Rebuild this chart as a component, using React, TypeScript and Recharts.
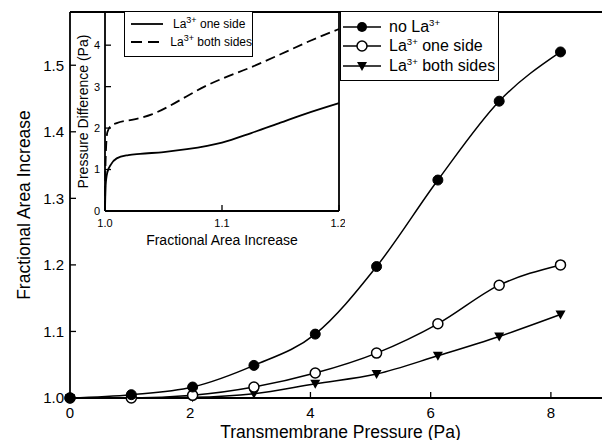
import { LineChart, Line, XAxis, YAxis } from 'recharts'

const FONT = '"Liberation Sans", Arial, sans-serif'

// main panel: fractional area increase vs transmembrane pressure
const pressure = [0, 1.02, 2.04, 3.06, 4.08, 5.1, 6.12, 7.14, 8.16]
const noLa = [1.0, 1.005, 1.0165, 1.049, 1.096, 1.1975, 1.3275, 1.446, 1.52]
const laOneSide = [1.0, 1.0, 1.004, 1.0165, 1.0375, 1.0675, 1.1115, 1.1695, 1.2]
const laBothSides = [1.0, 1.0, 1.001, 1.0065, 1.0215, 1.036, 1.0635, 1.0925, 1.1255]
const xTicks = [0, 2, 4, 6, 8]
const yTicks = [1.0, 1.1, 1.2, 1.3, 1.4, 1.5]

// inset: pressure difference vs fractional area increase
const oneSideArea = [1.0, 1.0005, 1.002, 1.005, 1.01, 1.02, 1.03, 1.05, 1.07, 1.1, 1.125, 1.15, 1.17, 1.2]
const oneSideDiff = [0, 0.6, 0.93, 1.12, 1.27, 1.35, 1.38, 1.42, 1.49, 1.65, 1.88, 2.13, 2.33, 2.6]
const bothSidesArea = [1.0, 1.0005, 1.002, 1.005, 1.01, 1.025, 1.04, 1.055, 1.07, 1.085, 1.1, 1.125, 1.15, 1.175, 1.2]
const bothSidesDiff = [0, 1.2, 1.9, 2.05, 2.12, 2.21, 2.33, 2.53, 2.77, 3.0, 3.19, 3.47, 3.78, 4.1, 4.39]
const insetXTicks = [1.0, 1.1, 1.2]
const insetYTicks = [0, 1, 2, 3, 4]

const toPoints = (xs: number[], ys: number[]) => xs.map((x, i) => ({ x, y: ys[i] }))

const noLaData = toPoints(pressure, noLa)
const oneSideData = toPoints(pressure, laOneSide)
const bothSidesData = toPoints(pressure, laBothSides)
const insetOneSide = toPoints(oneSideArea, oneSideDiff)
const insetBothSides = toPoints(bothSidesArea, bothSidesDiff)

const TriangleDot = (props: any) => {
  const { cx, cy, index } = props
  if (cx == null || cy == null) return <g key={index} />
  return <path key={index} d={`M${cx - 5},${cy - 4} L${cx + 5},${cy - 4} L${cx},${cy + 5} Z`} fill="#000" />
}

const La = ({ supSize }: { supSize: string }) => (
  <span>
    La<sup style={{ fontSize: supSize, verticalAlign: 'super', lineHeight: 0 }}>3+</sup>
  </span>
)

type Marker = 'filled' | 'open' | 'triangle'

const mainLegend: { marker: Marker; text: string }[] = [
  { marker: 'filled', text: '' },
  { marker: 'open', text: ' one side' },
  { marker: 'triangle', text: ' both sides' },
]

const insetLegend = [
  { dash: undefined as string | undefined, text: ' one side' },
  { dash: '11 6', text: ' both sides' },
]

function LegendMarker({ marker }: { marker: Marker }) {
  return (
    <svg width={38} height={14} style={{ display: 'block' }}>
      <line x1={0} y1={7} x2={38} y2={7} stroke="#000" strokeWidth={1.5} />
      {marker === 'filled' && <circle cx={19} cy={7} r={5} fill="#000" />}
      {marker === 'open' && <circle cx={19} cy={7} r={5} fill="#fff" stroke="#000" strokeWidth={1.5} />}
      {marker === 'triangle' && <path d="M14,3 L24,3 L19,12 Z" fill="#000" />}
    </svg>
  )
}

export default function App() {
  const axisStroke = { stroke: '#000', strokeWidth: 1.8 }
  return (
    <div
      style={{
        position: 'relative',
        margin: -8,
        width: 610,
        height: 448,
        overflow: 'hidden',
        background: '#fff',
        fontFamily: FONT,
      }}
    >
      {/* main chart */}
      <div style={{ position: 'absolute', left: 0, top: 0 }}>
        <LineChart width={630} height={448} margin={{ top: 11, right: 18, bottom: 0, left: 0 }}>
          <XAxis
            dataKey="x"
            type="number"
            domain={[0, 9]}
            ticks={xTicks}
            height={50}
            axisLine={axisStroke}
            tickLine={{ stroke: '#000', strokeWidth: 1.3 }}
            tickSize={-6}
            tickMargin={15}
            tick={{ fill: '#000', fontSize: 15, fontFamily: FONT }}
            label={{
              value: 'Transmembrane Pressure (Pa)',
              position: 'insideBottom',
              offset: 10,
              style: { fill: '#000', fontSize: 17.5, fontFamily: FONT, textAnchor: 'middle' },
            }}
          />
          <XAxis xAxisId="top" orientation="top" type="number" domain={[0, 9]} height={1} axisLine={axisStroke} tick={false} tickLine={false} />
          <YAxis
            type="number"
            domain={[1.0, 1.58]}
            ticks={yTicks}
            width={70}
            axisLine={axisStroke}
            tickLine={{ stroke: '#000', strokeWidth: 1.3 }}
            tickSize={-6}
            tickMargin={12}
            tickFormatter={(v: number) => v.toFixed(1)}
            tick={{ fill: '#000', fontSize: 15, fontFamily: FONT }}
            label={{
              value: 'Fractional Area Increase',
              angle: -90,
              position: 'insideLeft',
              offset: 24,
              style: { fill: '#000', fontSize: 17.5, fontFamily: FONT, textAnchor: 'middle' },
            }}
          />
          <YAxis
            yAxisId="right"
            orientation="right"
            type="number"
            domain={[1.0, 1.58]}
            ticks={yTicks}
            width={1}
            axisLine={axisStroke}
            tickLine={{ stroke: '#000', strokeWidth: 1.3 }}
            tickSize={-6}
            tick={false}
          />
          <Line
            data={bothSidesData}
            dataKey="y"
            type="monotone"
            stroke="#000"
            strokeWidth={1.5}
            dot={TriangleDot}
            isAnimationActive={false}
          />
          <Line
            data={oneSideData}
            dataKey="y"
            type="monotone"
            stroke="#000"
            strokeWidth={1.5}
            dot={{ r: 5, fill: '#fff', stroke: '#000', strokeWidth: 1.5 }}
            isAnimationActive={false}
          />
          <Line
            data={noLaData}
            dataKey="y"
            type="monotone"
            stroke="#000"
            strokeWidth={1.5}
            dot={{ r: 5, fill: '#000', stroke: '#000', strokeWidth: 1 }}
            isAnimationActive={false}
          />
        </LineChart>
      </div>

      {/* inset */}
      <div style={{ position: 'absolute', left: 0, top: 0 }}>
        <LineChart width={345} height={255} margin={{ top: 11, right: 5, bottom: 0, left: 0 }}>
          <XAxis
            dataKey="x"
            type="number"
            domain={[1.0, 1.2]}
            ticks={insetXTicks}
            height={44}
            axisLine={axisStroke}
            tickLine={{ stroke: '#000', strokeWidth: 1.3 }}
            tickSize={-6}
            tickMargin={14}
            tickFormatter={(v: number) => v.toFixed(1)}
            tick={{ fill: '#000', fontSize: 11, fontFamily: FONT }}
            label={{
              value: 'Fractional Area Increase',
              position: 'insideBottom',
              offset: 10,
              style: { fill: '#000', fontSize: 14, fontFamily: FONT, textAnchor: 'middle' },
            }}
          />
          <XAxis xAxisId="top" orientation="top" type="number" domain={[1.0, 1.2]} height={1} axisLine={axisStroke} tick={false} tickLine={false} />
          <YAxis
            type="number"
            domain={[0, 4.8]}
            ticks={insetYTicks}
            width={105}
            axisLine={axisStroke}
            tickLine={{ stroke: '#000', strokeWidth: 1.3 }}
            tickSize={-6}
            tickMargin={11}
            tick={{ fill: '#000', fontSize: 11, fontFamily: FONT }}
            label={{
              value: 'Pressure Difference (Pa)',
              angle: -90,
              position: 'insideLeft',
              offset: 83,
              style: { fill: '#000', fontSize: 14, fontFamily: FONT, textAnchor: 'middle' },
            }}
          />
          <YAxis yAxisId="right" orientation="right" type="number" domain={[0, 4.8]} width={1} axisLine={axisStroke} tick={false} tickLine={false} />
          <Line data={insetOneSide} dataKey="y" type="monotone" stroke="#000" strokeWidth={1.8} dot={false} isAnimationActive={false} />
          <Line
            data={insetBothSides}
            dataKey="y"
            type="monotone"
            stroke="#000"
            strokeWidth={1.8}
            strokeDasharray="10 5"
            dot={false}
            isAnimationActive={false}
          />
        </LineChart>
      </div>

      {/* inset legend */}
      <div
        style={{
          position: 'absolute',
          left: 124,
          top: 11,
          width: 129,
          height: 46,
          boxSizing: 'border-box',
          border: '1.8px solid #000',
          background: '#fff',
          paddingTop: 3,
          fontSize: 12,
        }}
      >
        {insetLegend.map((item, i) => (
          <div key={i} style={{ display: 'flex', alignItems: 'center', height: 18 }}>
            <svg width={44} height={10} style={{ display: 'block', marginLeft: 4 }}>
              <line x1={2} y1={5} x2={34} y2={5} stroke="#000" strokeWidth={1.8} strokeDasharray={item.dash} />
            </svg>
            <span style={{ whiteSpace: 'pre' }}>
              <La supSize="0.75em" />
              {item.text}
            </span>
          </div>
        ))}
      </div>

      {/* main legend */}
      <div
        style={{
          position: 'absolute',
          left: 340,
          top: 11,
          width: 159,
          height: 70,
          boxSizing: 'border-box',
          border: '1.8px solid #000',
          background: '#fff',
          paddingTop: 5,
          fontSize: 16,
        }}
      >
        {mainLegend.map((item, i) => (
          <div key={i} style={{ display: 'flex', alignItems: 'center', height: 19.5 }}>
            <div style={{ marginLeft: 2, marginRight: 8 }}>
              <LegendMarker marker={item.marker} />
            </div>
            <span style={{ whiteSpace: 'pre' }}>
              {i === 0 ? 'no ' : ''}
              <La supSize="0.6em" />
              {item.text}
            </span>
          </div>
        ))}
      </div>
    </div>
  )
}
